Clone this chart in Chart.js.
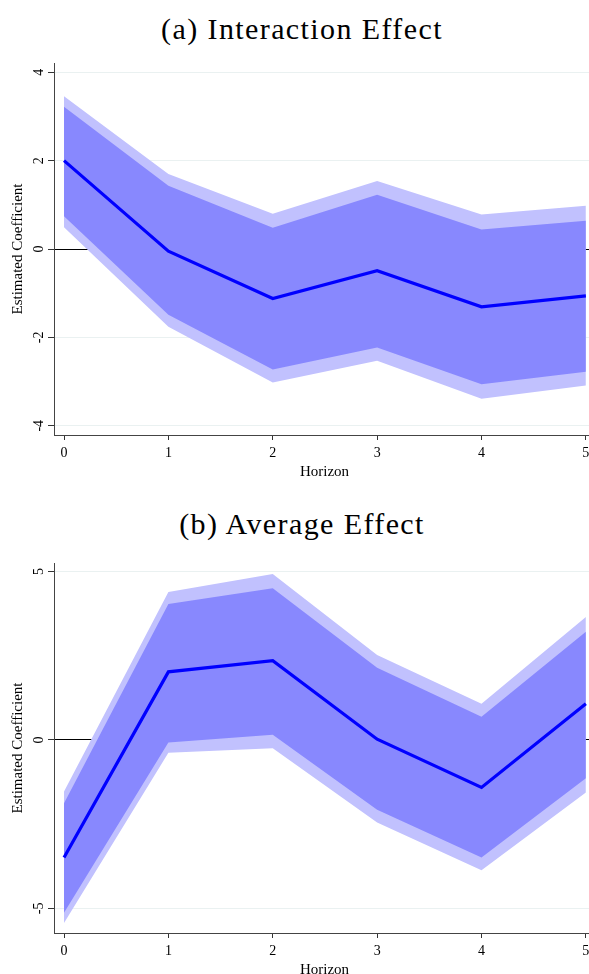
<!DOCTYPE html>
<html><head><meta charset="utf-8">
<script src="https://cdn.jsdelivr.net/npm/chart.js@4.4.1/dist/chart.umd.min.js"></script>
<style>
html,body{margin:0;padding:0;background:#fff;overflow:hidden;width:589px;height:974px;position:relative}
.ttl{position:absolute;left:0;width:604px;text-align:center;font-family:'Liberation Serif',serif;font-size:30px;letter-spacing:1.4px;color:#000;line-height:30px;white-space:nowrap}
canvas{position:absolute;left:0}
</style></head><body>
<div class="ttl" style="top:14px">(a) Interaction Effect</div>
<div class="ttl" style="top:509px">(b) Average Effect</div>
<canvas id="ca" width="589" height="487" style="top:0"></canvas>
<canvas id="cb" width="589" height="498" style="top:487px"></canvas>
<script>
const horizons = [0, 1, 2, 3, 4, 5];
const xTicks = [0, 1, 2, 3, 4, 5];
// (a) Interaction Effect
const aMean    = [2.00, -0.05, -1.12, -0.49, -1.31, -1.06];
const aUpper90 = [3.22,  1.43,  0.48,  1.23,  0.44,  0.64];
const aLower90 = [0.74, -1.49, -2.73, -2.23, -3.06, -2.78];
const aUpper95 = [3.46,  1.70,  0.80,  1.54,  0.78,  0.98];
const aLower95 = [0.49, -1.76, -3.02, -2.53, -3.39, -3.09];
const aYTicks  = [-4, -2, 0, 2, 4];
// (b) Average Effect
const bMean    = [-3.49, 2.02, 2.35,  0.02, -1.41,  1.07];
const bUpper90 = [-1.88, 4.03, 4.50,  2.14,  0.69,  3.21];
const bLower90 = [-5.13,-0.08, 0.15, -2.07, -3.49, -1.14];
const bUpper95 = [-1.53, 4.39, 4.92,  2.52,  1.07,  3.65];
const bLower95 = [-5.43,-0.38,-0.25, -2.45, -3.87, -1.56];
const bYTicks  = [-5, 0, 5];

const SERIF = "'Liberation Serif', serif";

const axisText = {
  id: 'axisText',
  afterDraw(chart, args, opts) {
    const {ctx, chartArea, scales: {x, y}} = chart;
    ctx.save();
    ctx.fillStyle = '#000';
    ctx.textAlign = 'center';
    ctx.textBaseline = 'middle';
    ctx.font = "14px 'Liberation Serif'";
    // y tick labels, rotated
    for (const t of y.ticks) {
      const py = y.getPixelForValue(t.value);
      ctx.save();
      ctx.translate(chartArea.left - 15, py);
      ctx.rotate(-Math.PI / 2);
      ctx.fillText(String(t.value), 0, 0);
      ctx.restore();
    }
    // x tick labels
    for (const t of x.ticks) {
      ctx.fillText(String(t.value), x.getPixelForValue(t.value), chartArea.bottom + 18);
    }
    ctx.font = "15px 'Liberation Serif'";
    // x title
    ctx.fillText(opts.xTitle, (chartArea.left + chartArea.right) / 2 + 3, chartArea.bottom + 37);
    // y title
    ctx.save();
    ctx.translate(18, (chartArea.top + chartArea.bottom) / 2);
    ctx.rotate(-Math.PI / 2);
    ctx.fillText(opts.yTitle, 0, 0);
    ctx.restore();
    ctx.restore();
  }
};

function pts(arr) { return horizons.map((h, i) => ({x: h, y: arr[i]})); }

function makeChart(id, mean, u95, l95, u90, l90, yTicks, ymin, ymax, padTop) {
  const clear = 'rgba(0,0,0,0)';
  return new Chart(document.getElementById(id), {
    type: 'line',
    data: {
      datasets: [
        {data: pts(u95), borderColor: clear, borderWidth: 0, pointRadius: 0, fill: false, order: 4},
        {data: pts(l95), borderColor: clear, borderWidth: 0, pointRadius: 0, fill: '-1', backgroundColor: '#c1c1fe', order: 3},
        {data: pts(u90), borderColor: clear, borderWidth: 0, pointRadius: 0, fill: false, order: 2},
        {data: pts(l90), borderColor: clear, borderWidth: 0, pointRadius: 0, fill: '-1', backgroundColor: '#8888fe', order: 1},
        {data: pts(mean), borderColor: '#0000ff', borderWidth: 3.2, pointRadius: 0, fill: false, order: 0, tension: 0, borderJoinStyle: 'miter'}
      ]
    },
    options: {
      responsive: false,
      animation: false,
      devicePixelRatio: 1,
      layout: {padding: {top: padTop, left: 0, right: 0, bottom: 0}},
      plugins: {
        legend: {display: false}, tooltip: {enabled: false},
        axisText: {xTitle: 'Horizon', yTitle: 'Estimated Coefficient'}
      },
      scales: {
        x: {
          type: 'linear', min: -0.096, max: 5.03,
          afterBuildTicks: s => { s.ticks = xTicks.map(v => ({value: v})); },
          afterFit: s => { s.height = 52; },
          ticks: {display: false},
          grid: {drawOnChartArea: false, drawTicks: true, tickLength: 5, tickColor: '#333'},
          border: {display: true, color: '#444', width: 1}
        },
        y: {
          min: ymin, max: ymax,
          afterBuildTicks: s => { s.ticks = yTicks.map(v => ({value: v})); },
          afterFit: s => { s.width = 54; },
          ticks: {display: false},
          grid: {
            color: c => (c.tick && c.tick.value === 0) ? '#000' : 'rgba(140,175,175,0.18)',
            lineWidth: 1, drawTicks: true, tickLength: 6, tickColor: '#333'
          },
          border: {display: true, color: '#444', width: 1},
          z: 1
        }
      }
    },
    plugins: [axisText]
  });
}

makeChart('ca', aMean, aUpper95, aLower95, aUpper90, aLower90, aYTicks, -4.21, 4.21, 63);
makeChart('cb', bMean, bUpper95, bLower95, bUpper90, bLower90, bYTicks, -5.73, 5.25, 76);
</script>
</body></html>
